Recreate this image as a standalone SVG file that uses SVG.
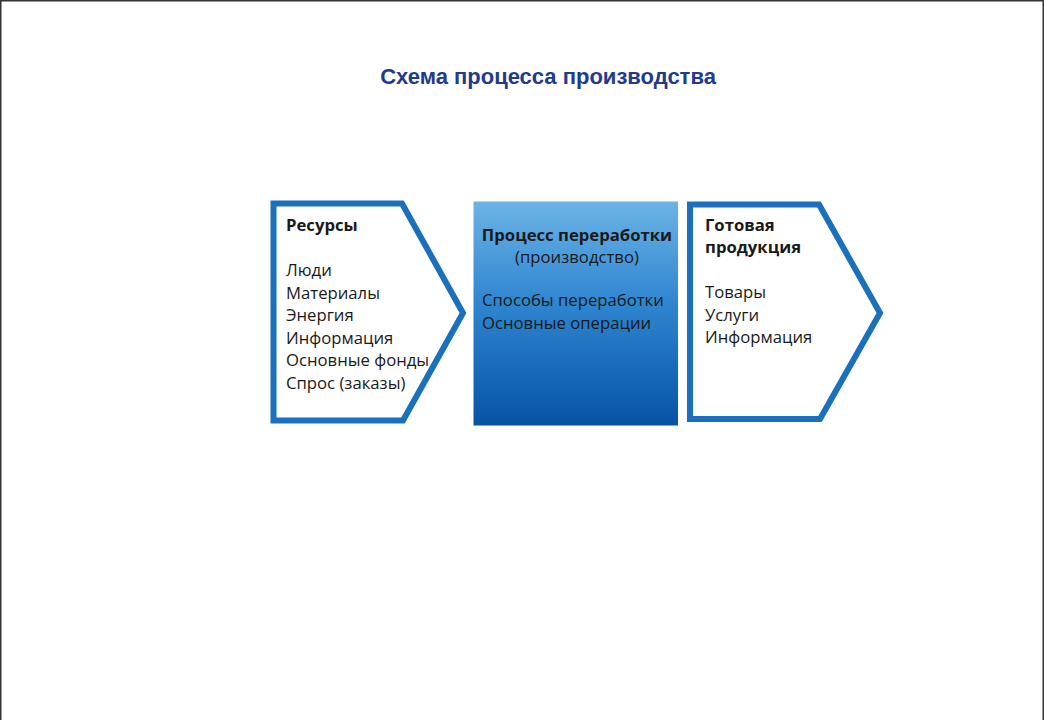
<svg xmlns="http://www.w3.org/2000/svg" width="1044" height="720" viewBox="0 0 1044 720">
<defs>
<linearGradient id="g" x1="0" y1="0" x2="0" y2="1">
<stop offset="0" stop-color="#6cb3e6"/>
<stop offset="0.45" stop-color="#2f86d0"/>
<stop offset="1" stop-color="#0653a6"/>
</linearGradient>
<style>
.frame{fill:none;stroke:#333;stroke-width:1.5}
.title{font-family:"Liberation Sans",Arial,sans-serif;font-weight:bold;font-size:22px;fill:#1f3a8f}
.shape{fill:#fff;stroke:#1b70bd;stroke-width:6;stroke-linejoin:miter}
.t{font-family:"Open Sans","Noto Sans",sans-serif;font-size:16.7px;fill:#1a1a1a}
.b{font-weight:bold}
</style>
</defs>
<rect width="1044" height="720" fill="#fff"/>
<path class="frame" d="M0.75,720 V0.75 H1043.25 V720"/>
<text class="title" x="548" y="84" text-anchor="middle">Схема процесса производства</text>
<g id="connectors"/>
<g id="resources">
<path class="shape" d="M273.5,203.5 H402 L463,313 L403,420.5 H273.5 Z"/>
<text class="t b" x="286" y="231">Ресурсы</text>
<text class="t" x="286" y="276">Люди</text>
<text class="t" x="286" y="298.5">Материалы</text>
<text class="t" x="286" y="321">Энергия</text>
<text class="t" x="286" y="343.5">Информация</text>
<text class="t" x="286" y="366">Основные фонды</text>
<text class="t" x="286" y="388.5">Спрос (заказы)</text>
</g>
<g id="process">
<rect x="473.5" y="201.5" width="204.5" height="224" fill="url(#g)"/>
<text class="t b" x="577" y="241" text-anchor="middle">Процесс переработки</text>
<text class="t" x="577" y="263" text-anchor="middle">(производство)</text>
<text class="t" x="482" y="306">Способы переработки</text>
<text class="t" x="482" y="329">Основные операции</text>
</g>
<g id="products">
<path class="shape" d="M690,204.5 H819 L880,313 L820,419 H690 Z"/>
<text class="t b" x="705" y="231">Готовая</text>
<text class="t b" x="705" y="253">продукция</text>
<text class="t" x="705" y="298">Товары</text>
<text class="t" x="705" y="320.5">Услуги</text>
<text class="t" x="705" y="343">Информация</text>
</g>
</svg>
